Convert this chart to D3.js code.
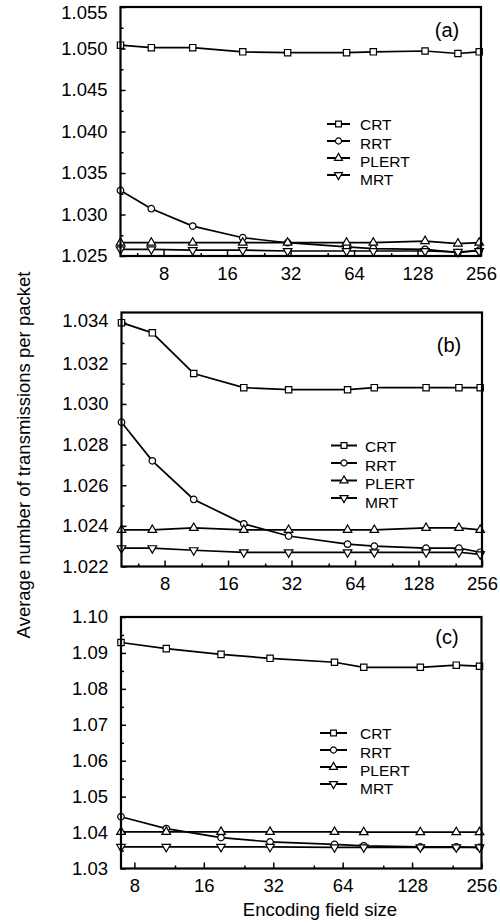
<!DOCTYPE html>
<html>
<head>
<meta charset="utf-8">
<script src="https://cdn.jsdelivr.net/npm/d3@7"></script>
<style>
  html, body { margin: 0; padding: 0; background: #fff; }
  svg { display: block; }
  text { font-family: "Liberation Sans", Arial, sans-serif; fill: #000; }
</style>
</head>
<body>
<svg id="chart" width="500" height="923"></svg>
<script>
// ---------- data ----------
const seriesNames = ["CRT", "RRT", "PLERT", "MRT"];
const xAB = [5, 7, 11, 19, 31, 59, 79, 139, 199, 251];
const xC  = [7, 11, 19, 31, 59, 79, 139, 199, 251];

const crtA   = [1.0504, 1.0501, 1.0501, 1.0496, 1.0495, 1.0495, 1.0496, 1.0497, 1.0494, 1.0496];
const rrtA   = [1.0329, 1.0307, 1.0286, 1.0272, 1.0266, 1.0261, 1.0259, 1.0258, 1.0254, 1.0257];
const plertA = [1.0266, 1.0266, 1.0266, 1.0266, 1.0266, 1.0266, 1.0266, 1.0268, 1.0265, 1.0266];
const mrtA   = [1.0258, 1.0258, 1.0257, 1.0257, 1.0256, 1.0256, 1.0256, 1.0256, 1.0255, 1.0256];

const crtB   = [1.0340, 1.0335, 1.0315, 1.0308, 1.0307, 1.0307, 1.0308, 1.0308, 1.0308, 1.0308];
const rrtB   = [1.0291, 1.0272, 1.0253, 1.0241, 1.0235, 1.0231, 1.0230, 1.0229, 1.0229, 1.0227];
const plertB = [1.0238, 1.0238, 1.0239, 1.0238, 1.0238, 1.0238, 1.0238, 1.0239, 1.0239, 1.0238];
const mrtB   = [1.0229, 1.0229, 1.0228, 1.0227, 1.0227, 1.0227, 1.0227, 1.0227, 1.0227, 1.0226];

const crtC   = [1.0929, 1.0912, 1.0896, 1.0885, 1.0874, 1.0860, 1.0860, 1.0866, 1.0863];
const rrtC   = [1.0444, 1.0411, 1.0386, 1.0374, 1.0367, 1.0363, 1.0360, 1.0360, 1.0359];
const plertC = [1.0402, 1.0402, 1.0402, 1.0402, 1.0402, 1.0401, 1.0401, 1.0401, 1.0401];
const mrtC   = [1.0360, 1.0360, 1.0360, 1.0360, 1.0359, 1.0359, 1.0359, 1.0359, 1.0359];

const xMajorTicks = [8, 16, 32, 64, 128, 256];
const xMinorTicks = [6, 12, 24, 48, 96, 192];
const yTicksA = [1.025, 1.030, 1.035, 1.040, 1.045, 1.050, 1.055];
const yTicksB = [1.022, 1.024, 1.026, 1.028, 1.030, 1.032, 1.034];
const yTicksC = [1.03, 1.04, 1.05, 1.06, 1.07, 1.08, 1.09, 1.10];
const panelLabels = ["(a)", "(b)", "(c)"];
const yTitle = "Average number of transmissions per packet";
const xTitle = "Encoding field size";

// ---------- layout ----------
const panels = [
  { x: xAB, ys: [crtA, rrtA, plertA, mrtA], xDom: [5, 256], yDom: [1.025, 1.055],
    yTicks: yTicksA, yMinorStep: 0.0025, yFmt: ".3f", topLabelShift: 6,
    left: 120.5, right: 481, top: 7, bottom: 256,
    label: panelLabels[0], labelPos: [447, 36.5],
    leg: { x1: 327, x2: 350, tx: 360, y0: 124, dy: 17 } },
  { x: xAB, ys: [crtB, rrtB, plertB, mrtB], xDom: [5, 256], yDom: [1.022, 1.0345],
    yTicks: yTicksB, yMinorStep: 0.001, yFmt: ".3f", topLabelShift: -2,
    left: 121.5, right: 482, top: 312.5, bottom: 566.5,
    label: panelLabels[1], labelPos: [449, 351.5],
    leg: { x1: 331, x2: 357, tx: 365, y0: 445.5, dy: 17.5 } },
  { x: xC, ys: [crtC, rrtC, plertC, mrtC], xDom: [7, 256], yDom: [1.03, 1.10],
    yTicks: yTicksC, yMinorStep: 0.005, yFmt: ".2f", topLabelShift: 0,
    left: 121, right: 481.5, top: 617, bottom: 868.5,
    label: panelLabels[2], labelPos: [447, 644],
    leg: { x1: 320, x2: 347, tx: 360, y0: 733, dy: 17 } }
];

const svg = d3.select("#chart");
const symbols = [d3.symbolSquare, d3.symbolCircle, d3.symbolTriangle, d3.symbolTriangle];
const symSizes = [40, 34, 32, 32];
const symRot = [0, 0, 0, 180];

function drawSymbol(g, i, cx, cy, scale) {
  const s = scale || 1;
  g.append("path")
    .attr("d", d3.symbol().type(symbols[i]).size(symSizes[i] * s)())
    .attr("transform", `translate(${cx},${cy}) rotate(${symRot[i]})`)
    .attr("fill", "#fff").attr("stroke", "#000").attr("stroke-width", 1.2);
}

panels.forEach(p => {
  const g = svg.append("g");
  const x = d3.scaleLog().base(2).domain(p.xDom).range([p.left, p.right]);
  const y = d3.scaleLinear().domain(p.yDom).range([p.bottom, p.top]);
  const topTick = d3.max(p.yTicks);

  // minor y ticks
  const yMinor = d3.range(p.yDom[0], p.yDom[1] + 1e-9, p.yMinorStep)
    .filter(v => !p.yTicks.some(t => Math.abs(t - v) < 1e-9));
  g.append("g").attr("transform", `translate(${p.left},0)`)
    .call(d3.axisLeft(y).tickValues(yMinor).tickSize(-3).tickFormat(""))
    .call(a => a.select(".domain").remove())
    .call(a => a.selectAll("line").attr("stroke", "#000").attr("stroke-width", 1.5));
  // major y ticks
  g.append("g").attr("transform", `translate(${p.left},0)`)
    .call(d3.axisLeft(y).tickValues(p.yTicks).tickSize(-5).tickPadding(13).tickFormat(d3.format(p.yFmt)))
    .call(a => a.select(".domain").remove())
    .call(a => a.selectAll("line").attr("stroke", "#000").attr("stroke-width", 1.5))
    .call(a => a.selectAll("text").attr("font-size", 18.5).attr("fill", "#000")
      .attr("font-family", '"Liberation Sans", Arial, sans-serif')
      .attr("y", d => Math.abs(d - topTick) < 1e-9 ? p.topLabelShift : 0));

  // x ticks
  g.append("g").attr("transform", `translate(0,${p.bottom})`)
    .call(d3.axisBottom(x).tickValues(xMinorTicks.filter(v => v >= p.xDom[0] && v <= p.xDom[1])).tickSize(-3).tickFormat(""))
    .call(a => a.select(".domain").remove())
    .call(a => a.selectAll("line").attr("stroke", "#000").attr("stroke-width", 1.5));
  g.append("g").attr("transform", `translate(0,${p.bottom})`)
    .call(d3.axisBottom(x).tickValues(xMajorTicks).tickSize(-6).tickPadding(10.5).tickFormat(d3.format("d")))
    .call(a => a.select(".domain").remove())
    .call(a => a.selectAll("line").attr("stroke", "#000").attr("stroke-width", 1.5))
    .call(a => a.selectAll("text").attr("font-size", 18.5).attr("fill", "#000")
      .attr("font-family", '"Liberation Sans", Arial, sans-serif'));

  // series
  const line = d3.line().x(d => x(d[0])).y(d => y(d[1]));
  p.ys.forEach((vals, i) => {
    const pts = p.x.map((xv, k) => [xv, vals[k]]);
    g.append("path").attr("d", line(pts)).attr("fill", "none")
      .attr("stroke", "#000").attr("stroke-width", 1.7);
  });
  p.ys.forEach((vals, i) => {
    p.x.forEach((xv, k) => drawSymbol(g, i, x(xv), y(vals[k])));
  });

  // frame
  g.append("rect").attr("x", p.left).attr("y", p.top)
    .attr("width", p.right - p.left).attr("height", p.bottom - p.top)
    .attr("fill", "none").attr("stroke", "#000").attr("stroke-width", 2.2);

  // panel label
  g.append("text").attr("x", p.labelPos[0]).attr("y", p.labelPos[1])
    .attr("text-anchor", "middle").attr("font-size", 20).text(p.label);

  // legend
  seriesNames.forEach((name, i) => {
    const ly = p.leg.y0 + i * p.leg.dy;
    g.append("line").attr("x1", p.leg.x1).attr("x2", p.leg.x2)
      .attr("y1", ly).attr("y2", ly).attr("stroke", "#000").attr("stroke-width", 2);
    drawSymbol(g, i, (p.leg.x1 + p.leg.x2) / 2, ly, 0.85);
    g.append("text").attr("x", p.leg.tx).attr("y", ly + 1 + i * 1.2).attr("dy", "0.35em")
      .attr("font-size", 15.5).text(name);
  });
});

// axis titles
svg.append("text").attr("transform", "translate(30,455) rotate(-90)")
  .attr("text-anchor", "middle").attr("font-size", 18.5).text(yTitle);
svg.append("text").attr("x", 320).attr("y", 916)
  .attr("text-anchor", "middle").attr("font-size", 18.5).text(xTitle);
</script>
</body>
</html>
